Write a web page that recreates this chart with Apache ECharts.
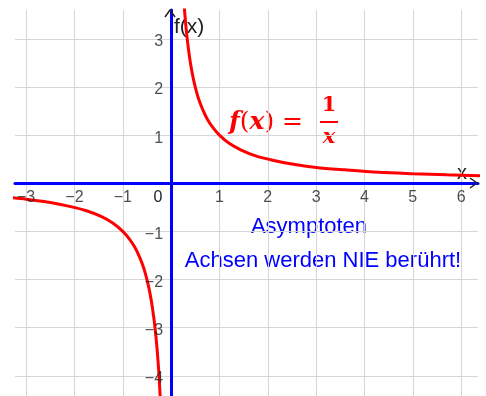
<!DOCTYPE html>
<html>
<head>
<meta charset="utf-8">
<style>
  html, body { margin: 0; padding: 0; background: #fff; }
  #chart { width: 486px; height: 396px; }
</style>
<script src="https://cdn.jsdelivr.net/npm/echarts@6/dist/echarts.min.js"></script>
</head>
<body>
<div id="chart"></div>
<script>
// Gitterlinien und Beschriftungen
var xTicks = [-3, -2, -1, 0, 1, 2, 3, 4, 5, 6];
var yTicks = [-4, -3, -2, -1, 0, 1, 2, 3];
var xLabels = [-3, -2, -1, 1, 2, 3, 4, 5, 6];
var yLabels = [-4, -3, -2, -1, 1, 2, 3];

// Punkte der Kurve
var rechterAst = [
  [0.27, 3.70], [0.30, 3.33], [0.33, 3.03], [0.36, 2.78], [0.40, 2.50],
  [0.45, 2.22], [0.50, 2.00], [0.57, 1.75], [0.65, 1.54], [0.75, 1.33],
  [0.87, 1.15], [1.00, 1.00], [1.20, 0.83], [1.45, 0.69], [1.75, 0.57],
  [2.10, 0.48], [2.50, 0.40], [3.00, 0.33], [3.60, 0.28], [4.30, 0.23],
  [5.00, 0.20], [5.70, 0.175], [6.40, 0.156]
];
var linkerAst = [
  [-3.30, -0.30], [-3.00, -0.33], [-2.50, -0.40], [-2.10, -0.48], [-1.75, -0.57],
  [-1.45, -0.69], [-1.20, -0.83], [-1.00, -1.00], [-0.87, -1.15], [-0.75, -1.33],
  [-0.65, -1.54], [-0.57, -1.75], [-0.50, -2.00], [-0.45, -2.22], [-0.40, -2.50],
  [-0.36, -2.78], [-0.33, -3.03], [-0.30, -3.33], [-0.27, -3.70], [-0.25, -4.00],
  [-0.22, -4.55]
];

var blau = '#0000ff';
var rot = '#ff0000';
var schrift = '"Liberation Sans", Arial, sans-serif';
var serif = '"DejaVu Serif", "Liberation Serif", serif';

function minus(v) {
  return String(v).replace('-', '\u2212');
}

var chart = echarts.init(document.getElementById('chart'));

var option = {
  animation: false,
  grid: { left: 15, right: 8, top: 10, bottom: 0, outerBoundsMode: 'none' },
  xAxis: {
    type: 'value',
    min: -3.23,
    max: 6.35,
    axisLine: { onZero: true, lineStyle: { color: blau, width: 3 } },
    axisTick: { show: false, customValues: xTicks },
    axisLabel: { show: false },
    splitLine: { show: true, lineStyle: { color: '#d6d6d6', width: 1 } }
  },
  yAxis: {
    type: 'value',
    min: -4.42,
    max: 3.6,
    axisLine: { onZero: true, lineStyle: { color: blau, width: 3 } },
    axisTick: { show: false, customValues: yTicks },
    axisLabel: { show: false },
    splitLine: { show: true, lineStyle: { color: '#d6d6d6', width: 1 } }
  },
  series: [
    {
      type: 'line',
      data: rechterAst,
      showSymbol: false,
      smooth: 0.3,
      lineStyle: { color: rot, width: 3 },
      z: 1
    },
    {
      type: 'line',
      data: linkerAst,
      showSymbol: false,
      smooth: 0.3,
      lineStyle: { color: rot, width: 3 },
      z: 1
    },
    // Beschriftung der x-Achse an der Achse selbst
    {
      type: 'scatter',
      data: xLabels.map(function (v) { return [v, 0]; }),
      symbolSize: 0,
      silent: true,
      z: 5,
      label: {
        show: true,
        position: 'bottom',
        distance: 6,
        formatter: function (p) { return minus(p.value[0]); },
        color: '#222',
        fontSize: 16,
        fontFamily: schrift
      }
    },
    // Beschriftung der y-Achse
    {
      type: 'scatter',
      data: yLabels.map(function (v) { return [0, v]; }),
      symbolSize: 0,
      silent: true,
      z: 5,
      label: {
        show: true,
        position: 'left',
        distance: 8,
        offset: [0, 3],
        formatter: function (p) { return minus(p.value[1]); },
        color: '#222',
        fontSize: 16,
        fontFamily: schrift
      }
    }
  ],
  graphic: [
    // Ursprung und Achsennamen
    { type: 'text', x: 158, y: 198, style: { text: '0', fill: '#222', font: '16px ' + schrift, align: 'center', verticalAlign: 'middle' } },
    { type: 'text', x: 174, y: 27, style: { text: 'f(x)', fill: '#222', font: '21px ' + schrift, verticalAlign: 'middle' } },
    { type: 'text', x: 462, y: 173, style: { text: 'x', fill: '#222', font: '20px ' + schrift, align: 'center', verticalAlign: 'middle' } },
    // Pfeilspitzen
    { type: 'polyline', shape: { points: [[165, 17], [170, 10], [175, 17]] }, style: { stroke: '#222', lineWidth: 1.5, fill: null }, z: 10 },
    { type: 'polyline', shape: { points: [[470, 178], [477, 183], [470, 188]] }, style: { stroke: '#222', lineWidth: 1.5, fill: null }, z: 10 },
    // Funktionsterm
    {
      type: 'text', x: 229, y: 122,
      style: {
        text: '{i|f}{n|(}{i|x}{n|) = }',
        verticalAlign: 'middle',
        fill: rot,
        rich: {
          i: { fontFamily: serif, fontStyle: 'italic', fontWeight: 'bold', fontSize: 25, fill: rot },
          n: { fontFamily: serif, fontWeight: 'normal', fontSize: 25, fill: rot }
        }
      }
    },
    { type: 'text', x: 329, y: 106, style: { text: '1', fill: rot, font: 'bold 21px ' + serif, align: 'center', verticalAlign: 'middle' } },
    { type: 'line', shape: { x1: 320, y1: 122, x2: 338, y2: 122 }, style: { stroke: rot, lineWidth: 2 } },
    { type: 'text', x: 329, y: 138, style: { text: 'x', fill: rot, font: 'italic bold 21px ' + serif, align: 'center', verticalAlign: 'middle' } },
    // Hinweistext
    { type: 'text', x: 309, y: 227, style: { text: 'Asymptoten', fill: blau, font: '22px ' + schrift, align: 'center', verticalAlign: 'middle' } },
    { type: 'text', x: 323, y: 261, style: { text: 'Achsen werden NIE berührt!', fill: blau, font: '22px ' + schrift, align: 'center', verticalAlign: 'middle' } }
  ]
};

chart.setOption(option);
</script>
</body>
</html>
